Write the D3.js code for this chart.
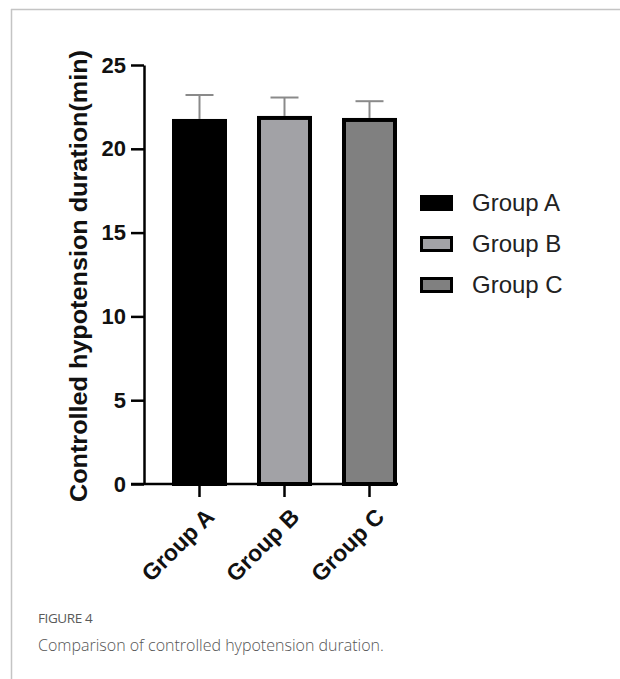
<!DOCTYPE html>
<html>
<head>
<meta charset="utf-8">
<script src="https://cdn.jsdelivr.net/npm/d3@7"></script>
<style>
  body { margin: 0; background: #fff; }
  svg { display: block; }
</style>
</head>
<body>
<svg id="chart" width="620" height="679"></svg>
<script>
var groups = ["Group A", "Group B", "Group C"]
var means = [21.78, 21.96, 21.84]
var errors = [1.43, 1.1, 1.0]
var fills = ["#000000", "#a2a2a6", "#808080"]
var yTicks = [0, 5, 10, 15, 20, 25]

var font = "'Liberation Sans', Arial, sans-serif"
var svg = d3.select("#chart")

// frame lines
svg.append("line").attr("x1", 11).attr("x2", 620).attr("y1", 9.5).attr("y2", 9.5)
  .attr("stroke", "#c4c4c4").attr("stroke-width", 1.5)
svg.append("line").attr("x1", 11.5).attr("x2", 11.5).attr("y1", 9).attr("y2", 679)
  .attr("stroke", "#c4c4c4").attr("stroke-width", 1.5)

var x = d3.scaleBand().domain(groups).range([172, 397]).paddingInner(0.353).paddingOuter(0)
var y = d3.scaleLinear().domain([0, 25]).range([484, 65])

var g = svg.append("g")

// bars
g.selectAll("rect.bar")
  .data(groups)
  .enter()
  .append("rect")
  .attr("class", "bar")
  .attr("x", function(d) { return x(d) + 2 })
  .attr("y", function(d, i) { return y(means[i]) + 2 })
  .attr("width", x.bandwidth() - 4)
  .attr("height", function(d, i) { return y(0) - y(means[i]) - 2 })
  .attr("fill", function(d, i) { return fills[i] })
  .attr("stroke", "#000")
  .attr("stroke-width", 4)

// error bars
var err = g.selectAll("g.err").data(groups).enter().append("g").attr("class", "err")
err.append("line")
  .attr("x1", function(d) { return x(d) + x.bandwidth() / 2 })
  .attr("x2", function(d) { return x(d) + x.bandwidth() / 2 })
  .attr("y1", function(d, i) { return y(means[i]) })
  .attr("y2", function(d, i) { return y(means[i] + errors[i]) })
  .attr("stroke", "#8a8a8a").attr("stroke-width", 2)
err.append("line")
  .attr("x1", function(d) { return x(d) + x.bandwidth() / 2 - 14 })
  .attr("x2", function(d) { return x(d) + x.bandwidth() / 2 + 14 })
  .attr("y1", function(d, i) { return y(means[i] + errors[i]) })
  .attr("y2", function(d, i) { return y(means[i] + errors[i]) })
  .attr("stroke", "#8a8a8a").attr("stroke-width", 2)

// y axis
var yAxis = svg.append("g")
  .attr("transform", "translate(144,0)")
  .call(d3.axisLeft(y).tickValues(yTicks).tickSize(13).tickPadding(5).tickSizeOuter(0))
yAxis.select(".domain").attr("stroke", "#000").attr("stroke-width", 2.5)
yAxis.selectAll(".tick line").attr("stroke", "#000").attr("stroke-width", 2.5)
yAxis.selectAll(".tick text")
  .attr("font-family", font)
  .attr("font-weight", "bold").attr("font-size", 22).attr("fill", "#111")

// x axis
var xAxis = svg.append("g")
  .attr("transform", "translate(0,484)")
  .call(d3.axisBottom(x).tickSize(13).tickSizeOuter(0).tickFormat(""))
xAxis.select(".domain").attr("stroke", "#000").attr("stroke-width", 2.5)
  .attr("d", "M131,0H398")
xAxis.selectAll(".tick line").attr("stroke", "#000").attr("stroke-width", 2.5)

svg.append("g").selectAll("text")
  .data(groups)
  .enter()
  .append("text")
  .attr("transform", function(d) {
    return "translate(" + (x(d) + x.bandwidth() / 2 + 4) + ",506) rotate(-45)"
  })
  .attr("text-anchor", "end")
  .attr("dy", "0.75em")
  .attr("font-family", font)
  .attr("font-weight", "bold").attr("font-size", 23).attr("fill", "#111")
  .text(function(d) { return d })

// y axis title
svg.append("text")
  .attr("transform", "translate(87,276) rotate(-90)")
  .attr("text-anchor", "middle")
  .attr("font-family", font)
  .attr("font-weight", "bold").attr("font-size", 24).attr("fill", "#111")
  .attr("textLength", 452).attr("lengthAdjust", "spacingAndGlyphs")
  .text("Controlled hypotension duration(min)")

// legend
var leg = svg.append("g").selectAll("g")
  .data(groups)
  .enter()
  .append("g")
  .attr("transform", function(d, i) { return "translate(420," + (195 + i * 41) + ")" })
leg.append("rect")
  .attr("x", 1.5).attr("y", 1.5)
  .attr("width", 30).attr("height", 13)
  .attr("fill", function(d, i) { return fills[i] })
  .attr("stroke", "#000").attr("stroke-width", 3)
leg.append("text")
  .attr("x", 52).attr("y", 16)
  .attr("font-family", font)
  .attr("font-size", 24).attr("fill", "#222")
  .text(function(d) { return d })

// caption
svg.append("text")
  .attr("x", 38).attr("y", 623)
  .attr("font-family", "'Open Sans', sans-serif")
  .attr("font-weight", 500)
  .attr("font-size", 13.5).attr("fill", "#5a5a5a")
  .attr("letter-spacing", "-0.4")
  .text("FIGURE 4")
svg.append("text")
  .attr("x", 38).attr("y", 651)
  .attr("font-family", "'Open Sans', sans-serif")
  .attr("font-weight", 300)
  .attr("font-size", 16).attr("fill", "#555")
  .text("Comparison of controlled hypotension duration.")
</script>
</body>
</html>
